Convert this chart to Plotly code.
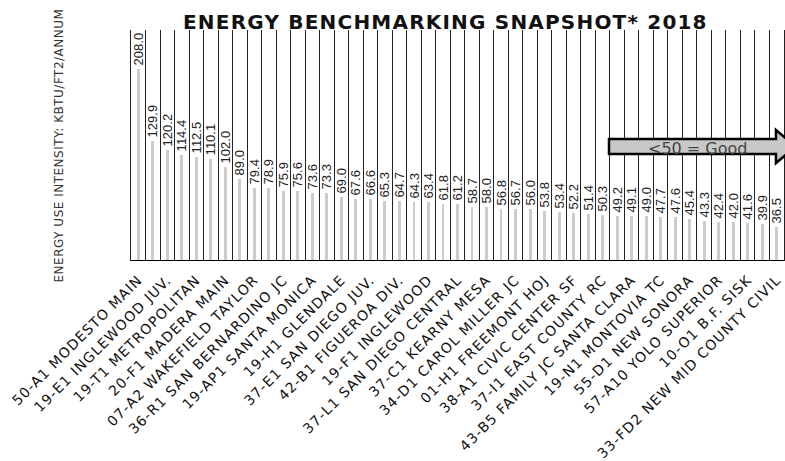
import plotly.graph_objects as go

# Site energy use intensity (kBTU/ft2/annum), sorted high to low
EUI = [208.0, 129.9, 120.2, 114.4, 112.5, 110.1, 102.0, 89.0, 79.4, 78.9,
       75.9, 75.6, 73.6, 73.3, 69.0, 67.6, 66.6, 65.3, 64.7, 64.3,
       63.4, 61.8, 61.2, 58.7, 58.0, 56.8, 56.7, 56.0, 53.8, 53.4,
       52.2, 51.4, 50.3, 49.2, 49.1, 49.0, 47.7, 47.6, 45.4, 43.3,
       42.4, 42.0, 41.6, 39.9, 36.5]

# Every other site carries a name on the category axis
SITE_LABELS = [
    "50-A1 MODESTO MAIN", "19-E1 INGLEWOOD JUV.", "19-T1 METROPOLITAN",
    "20-F1 MADERA MAIN", "07-A2 WAKEFIELD TAYLOR", "36-R1 SAN BERNARDINO JC",
    "19-AP1 SANTA MONICA", "19-H1 GLENDALE", "37-E1 SAN DIEGO JUV.",
    "42-B1 FIGUEROA DIV.", "19-F1 INGLEWOOD", "37-L1 SAN DIEGO CENTRAL",
    "37-C1 KEARNY MESA", "34-D1 CAROL MILLER JC", "01-H1 FREEMONT HOJ",
    "38-A1 CIVIC CENTER SF", "37-I1 EAST COUNTY RC", "43-B5 FAMILY JC SANTA CLARA",
    "19-N1 MONTOVIA TC", "55-D1 NEW SONORA", "57-A10 YOLO SUPERIOR",
    "10-O1 B.F. SISK", "33-FD2 NEW MID COUNTY CIVIL",
]

TITLE = "ENERGY BENCHMARKING SNAPSHOT* 2018"
Y_TITLE = "ENERGY USE INTENSITY: KBTU/FT2/ANNUM"
GOOD_NOTE = "<50 = Good"

positions = list(range(len(EUI)))
label_positions = positions[::2]
boundaries = [p - 0.5 for p in positions] + [positions[-1] + 0.5]


def spaced(text, px):
    return f'<span style="letter-spacing:{px}px">{text}</span>'


LINE = "#222222"
FONT = "DejaVu Sans"

fig = go.Figure(
    go.Bar(
        x=positions,
        y=EUI,
        width=0.2,
        marker=dict(color="#cccccc", line=dict(width=0)),
        texttemplate="\u00a0%{y:.1f}",
        textposition="outside",
        textangle=-90,
        constraintext="none",
        cliponaxis=False,
        textfont=dict(family="Liberation Sans", size=13, color="#222222"),
        hoverinfo="skip",
    )
)

fig.update_xaxes(
    range=[-0.5, len(EUI) - 0.5],
    tickmode="array",
    tickvals=label_positions,
    ticktext=[spaced(t, 1.1) for t in SITE_LABELS],
    tickangle=-45,
    ticks="",
    ticklabelstandoff=7,
    tickfont=dict(family=FONT, size=14, color="#111111"),
    showgrid=False,
    zeroline=False,
    showline=False,
    minor=dict(tickmode="array", tickvals=boundaries, showgrid=True,
               gridcolor=LINE, gridwidth=1.3, ticks=""),
    automargin=False,
)
fig.update_yaxes(
    range=[0, 250],
    showticklabels=False,
    ticks="",
    showgrid=False,
    zeroline=False,
    showline=True,
    mirror=True,
    linecolor=LINE,
    linewidth=1.3,
    automargin=False,
)

# Baseline along the bottom of the bars
fig.add_shape(type="line", xref="paper", yref="y", x0=0, x1=1, y0=0, y1=0,
              line=dict(color="#000000", width=2.2), layer="above")

# Block arrow pointing right with the efficiency note
fig.add_shape(
    type="path", xref="paper", yref="paper",
    path="M 0.732 0.528 L 0.9877 0.528 L 0.9877 0.567 L 1.018 0.4957 "
         "L 0.9877 0.424 L 0.9877 0.463 L 0.732 0.463 Z",
    fillcolor="#c8c8c8",
    line=dict(color="#000000", width=2.5),
    layer="above",
)

annotations = [
    dict(text=spaced(TITLE, 1.2),
         xref="paper", yref="paper", x=0.4816, y=1, xanchor="center",
         yanchor="bottom", yshift=-6, showarrow=False,
         font=dict(family=FONT, size=20, color="#111111", weight="bold")),
    dict(text=spaced(Y_TITLE, 0.5), xref="paper", yref="paper", x=-0.1103, y=0.5,
         xanchor="center", yanchor="middle", textangle=-90, showarrow=False,
         font=dict(family=FONT, size=12, color="#333333")),
    dict(text=GOOD_NOTE, xref="paper", yref="paper", x=0.8668, y=0.487,
         xanchor="center", yanchor="middle", showarrow=False,
         font=dict(family=FONT, size=16, color="#444444")),
]

fig.update_layout(
    width=785,
    height=461,
    margin=dict(l=131, r=1, t=30, b=200, pad=0),
    paper_bgcolor="#ffffff",
    plot_bgcolor="#ffffff",
    showlegend=False,
    annotations=annotations,
    bargap=0,
)

fig.write_html("out.html")
